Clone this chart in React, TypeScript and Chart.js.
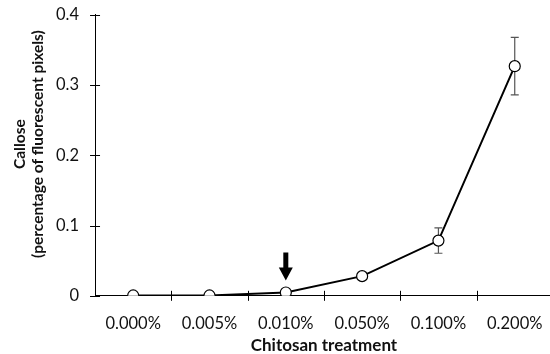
import React, { useEffect, useRef } from "react";
import { Chart, registerables } from "chart.js";

Chart.register(...registerables);

const categories = ["0.000%", "0.005%", "0.010%", "0.050%", "0.100%", "0.200%"];
const callose = [0.0005, 0.0005, 0.0047, 0.028, 0.0786, 0.327];
const errors = [0, 0, 0, 0, 0.018, 0.041];
const yTickValues = [0, 0.1, 0.2, 0.3, 0.4];
const yTitleLines = ["Callose", "(percentage of fluorescent pixels)"];
const xTitle = "Chitosan treatment";
const arrowIndex = 2;

const FONT = "Lato, 'Open Sans', sans-serif";
const SHIFT_Y = 11;

const overlayPlugin = {
  id: "overlay",
  beforeDatasetsDraw(chart: any) {
    const ctx = chart.ctx;
    const x = chart.scales.x;
    const y = chart.scales.y;
    ctx.save();
    ctx.strokeStyle = "#555";
    ctx.lineWidth = 1.2;
    callose.forEach((v, i) => {
      const e = errors[i];
      if (!e) return;
      const px = x.getPixelForValue(i);
      const top = y.getPixelForValue(v + e);
      const bot = y.getPixelForValue(v - e);
      ctx.beginPath();
      ctx.moveTo(px, top);
      ctx.lineTo(px, bot);
      ctx.moveTo(px - 4, top);
      ctx.lineTo(px + 4, top);
      ctx.moveTo(px - 4, bot);
      ctx.lineTo(px + 4, bot);
      ctx.stroke();
    });
    ctx.restore();
  },
  afterDraw(chart: any) {
    const ctx = chart.ctx;
    const x = chart.scales.x;
    const y = chart.scales.y;
    const area = chart.chartArea;
    ctx.save();
    ctx.strokeStyle = "#000";
    ctx.lineWidth = 1;
    yTickValues.forEach((v) => {
      const py = Math.round(y.getPixelForValue(v)) + 0.5;
      ctx.beginPath();
      ctx.moveTo(area.left - 5, py);
      ctx.lineTo(area.left + 5, py);
      ctx.stroke();
    });
    const n = categories.length;
    for (let i = 1; i < n; i++) {
      const px = Math.round((x.getPixelForValue(i - 1) + x.getPixelForValue(i)) / 2) + 0.5;
      ctx.beginPath();
      ctx.moveTo(px, area.bottom - 5);
      ctx.lineTo(px, area.bottom + 5);
      ctx.stroke();
    }
    const ax = x.getPixelForValue(arrowIndex);
    const ay = y.getPixelForValue(callose[arrowIndex]);
    const tip = ay - 12;
    const headTop = tip - 13;
    const tailTop = tip - 28;
    ctx.fillStyle = "#000";
    ctx.beginPath();
    ctx.moveTo(ax - 2.5, tailTop);
    ctx.lineTo(ax + 2.5, tailTop);
    ctx.lineTo(ax + 2.5, headTop);
    ctx.lineTo(ax + 7, headTop);
    ctx.lineTo(ax, tip);
    ctx.lineTo(ax - 7, headTop);
    ctx.lineTo(ax - 2.5, headTop);
    ctx.closePath();
    ctx.fill();
    ctx.fillStyle = "#111";
    ctx.font = `bold 15.5px ${FONT}`;
    ctx.textAlign = "center";
    ctx.textBaseline = "middle";
    const cy = area.top + (area.bottom - area.top) * 0.46;
    const xs = [20, 38];
    yTitleLines.forEach((line, i) => {
      ctx.save();
      ctx.translate(xs[i], cy);
      ctx.rotate(-Math.PI / 2);
      ctx.fillText(line, 0, 0);
      ctx.restore();
    });
    ctx.restore();
  },
};

export default function App() {
  const ref = useRef<HTMLCanvasElement | null>(null);
  useEffect(() => {
    if (!ref.current) return;
    const chart = new Chart(ref.current, {
      type: "line",
      data: {
        labels: categories,
        datasets: [
          {
            data: callose,
            borderColor: "#000",
            borderWidth: 2,
            backgroundColor: "#fff",
            pointBackgroundColor: "#fff",
            pointBorderColor: "#000",
            pointBorderWidth: 1.2,
            pointRadius: 5.5,
            tension: 0,
          },
        ],
      },
      options: {
        responsive: false,
        animation: false,
        layout: { padding: { top: 0, right: 0, bottom: -2, left: 40 } },
        plugins: {
          legend: { display: false },
          tooltip: { enabled: false },
        },
        scales: {
          x: {
            offset: true,
            grid: { display: true, drawOnChartArea: false, drawTicks: false },
            border: { display: true, color: "#000", width: 1 },
            ticks: {
              padding: 18,
              color: "#111",
              font: { family: FONT, size: 16.5 },
            },
            title: {
              display: true,
              text: xTitle,
              color: "#111",
              font: { family: FONT, size: 17, weight: "bold" },
              padding: { top: -16, bottom: 0 },
            },
          },
          y: {
            min: 0,
            max: 0.4,
            afterBuildTicks(scale: any) {
              scale.ticks = yTickValues.map((v) => ({ value: v }));
            },
            grid: { display: true, drawOnChartArea: false, drawTicks: false },
            border: { display: true, color: "#000", width: 1 },
            ticks: {
              padding: 16,
              color: "#111",
              font: { family: FONT, size: 16.5 },
              callback: (v: any) => (v === 0 ? "0" : Number(v).toFixed(1)),
            },
            title: { display: false },
          },
        },
      },
      plugins: [overlayPlugin],
    });
    return () => chart.destroy();
  }, []);
  return (
    <div
      style={{
        position: "fixed",
        left: 0,
        top: 0,
        width: 550,
        height: 354,
        overflow: "hidden",
        background: "#fff",
      }}
    >
      <canvas
        ref={ref}
        width={561}
        height={354 + SHIFT_Y}
        style={{ position: "absolute", left: 0, top: -SHIFT_Y }}
      />
    </div>
  );
}
